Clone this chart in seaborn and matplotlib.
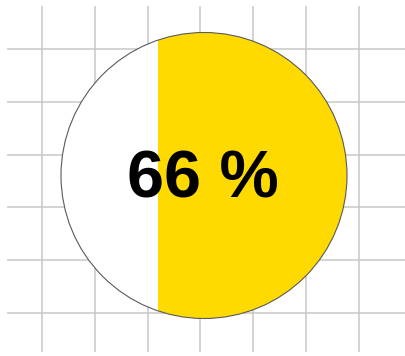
import numpy as np
import matplotlib
matplotlib.use("Agg")
import matplotlib.pyplot as plt
import seaborn as sns
from matplotlib.patches import Circle

# data
percent_value = [66]
label_text = ["66 %"]
category = ["fill"]

sns.set_style("white")
plt.rcParams['font.family'] = ['Liberation Sans', 'DejaVu Sans']

W, H = 405, 356
fig = plt.figure(figsize=(W / 100, H / 100), dpi=100)
fig.patch.set_facecolor("white")

# background grid axes (pixel units)
gx0, gx1, gy0, gy1 = 7, 405, 6, 352
ax = fig.add_axes([gx0 / W, 1 - gy1 / H, (gx1 - gx0) / W, (gy1 - gy0) / H])
ax.set_xlim(gx0, gx1)
ax.set_ylim(gy1, gy0)
ax.set_xticks(np.arange(42, gx1, 52.8))
ax.set_yticks(np.arange(49, gy1, 52.8))
ax.grid(True, color="#c8c8c8", linewidth=1.1)
ax.tick_params(length=0, labelbottom=False, labelleft=False)
for s in ax.spines.values():
    s.set_visible(False)
ax.set_facecolor("white")

# circle axes
cx, cy, r = 204, 175.5, 143
ax2 = fig.add_axes([(cx - r) / W, 1 - (cy + r) / H, 2 * r / W, 2 * r / H])
ax2.patch.set_alpha(0)
bg = Circle((0.5, 0.5), 0.5, transform=ax2.transAxes, facecolor="white",
            edgecolor="none", zorder=0)
ax2.add_patch(bg)
sns.barplot(x=[v / 100 for v in percent_value], y=category, orient="h",
            width=1.0, color="#FFDA00", saturation=1, ax=ax2, zorder=1)
ax2.set_xlim(1, 0)
ax2.set_ylim(0.5, -0.5)
clip = Circle((0.5, 0.5), 0.5, transform=ax2.transAxes)
for p in ax2.patches:
    if p is not bg:
        p.set_clip_path(clip)
        p.set_edgecolor("none")
outline = Circle((0.5, 0.5), 0.5, transform=ax2.transAxes, facecolor="none",
                 edgecolor="#5a5a5a", linewidth=0.8, zorder=3, clip_on=False)
ax2.add_patch(outline)
ax2.text(0.495, 0.482, label_text[0], transform=ax2.transAxes, ha="center",
         va="center", fontsize=48, fontweight="bold", color="black", zorder=4)
ax2.set_axis_off()

fig.savefig("out.png", dpi=100)
